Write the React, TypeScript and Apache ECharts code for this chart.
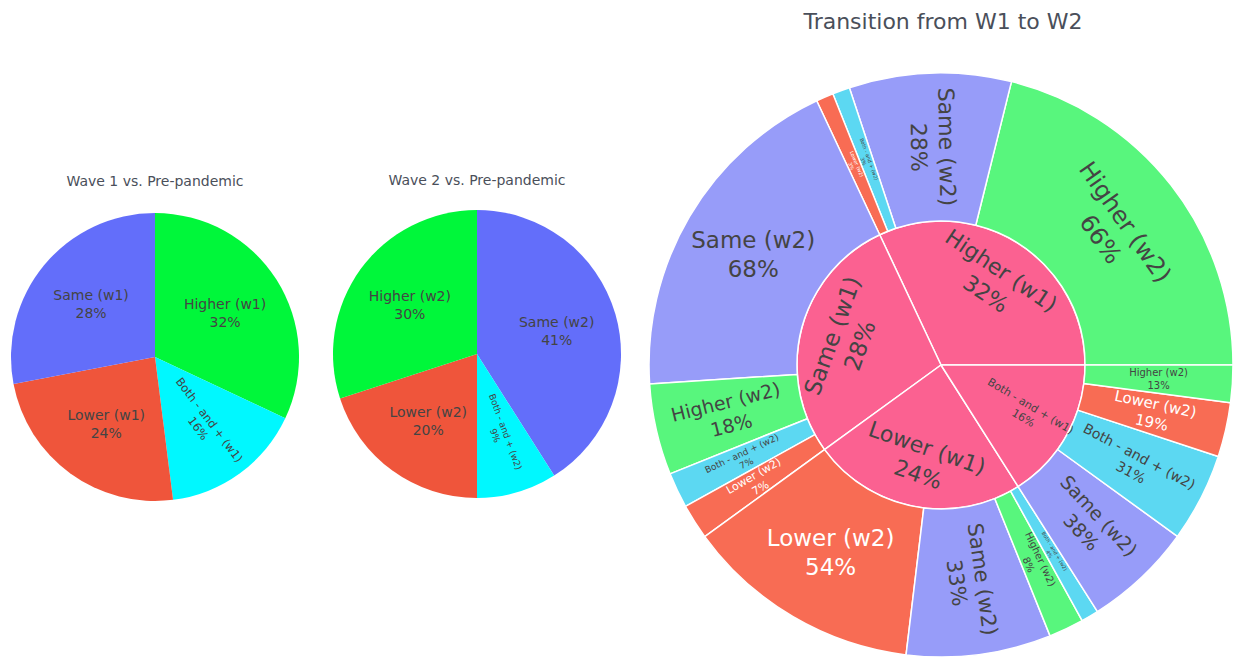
import React, { useEffect, useRef } from "react";
import * as echarts from "echarts";

// ---------- data ----------
const wave1Categories = ["Higher (w1)", "Both - and + (w1)", "Lower (w1)", "Same (w1)"];
const wave1Values = [32, 16, 24, 28];

const wave2Categories = ["Same (w2)", "Both - and + (w2)", "Lower (w2)", "Higher (w2)"];
const wave2Values = [41, 9, 20, 30];

const transitionParents = ["Higher (w1)", "Same (w1)", "Lower (w1)", "Both - and + (w1)"];
const transitionParentPercents = [32, 28, 24, 16];

const transitionChildren = [
  ["Higher (w2)", "Same (w2)", "Both - and + (w2)", "Lower (w2)"],
  ["Same (w2)", "Higher (w2)", "Both - and + (w2)", "Lower (w2)"],
  ["Lower (w2)", "Same (w2)", "Higher (w2)", "Both - and + (w2)"],
  ["Same (w2)", "Both - and + (w2)", "Lower (w2)", "Higher (w2)"],
];
const transitionChildPercents = [
  [66, 28, 3, 3],
  [68, 18, 7, 7],
  [54, 33, 8, 4],
  [38, 31, 19, 13],
];

const titles = ["Wave 1 vs. Pre-pandemic", "Wave 2 vs. Pre-pandemic", "Transition from W1 to W2"];

// ---------- styles ----------
const FONT = "DejaVu Sans, Verdana, sans-serif";
const DARK = "#444";

const pieColors: Record<string, string> = {
  Higher: "#00f73a",
  Same: "#636efa",
  Lower: "#ef553b",
  Both: "#00f8ff",
};
const leafColors: Record<string, string> = {
  Higher: "#58f67d",
  Same: "#979cf9",
  Lower: "#f86c54",
  Both: "#5cd8f2",
};
const INNER_PINK = "#fb6191";

const keyOf = (name: string) => name.split(" ")[0];

const wave1LabelStyle = [
  { rotate: 0, size: 14 },
  { rotate: -53, size: 11.5 },
  { rotate: 0, size: 14 },
  { rotate: 0, size: 14 },
];
const wave2LabelStyle = [
  { rotate: 0, size: 14 },
  { rotate: -70, size: 9 },
  { rotate: 0, size: 14 },
  { rotate: 0, size: 14 },
];
const innerLabelStyle = [
  { rotate: -34, size: 22 },
  { rotate: 70, size: 23 },
  { rotate: -19, size: 22 },
  { rotate: -31, size: 11 },
];
const childLabelStyle = [
  [{ rotate: -55, size: 24 }, { rotate: -89, size: 22 }, { rotate: -70, size: 5 }, { rotate: -67, size: 5 }],
  [{ rotate: 0, size: 23 }, { rotate: 14, size: 19 }, { rotate: 25, size: 9 }, { rotate: 30, size: 11 }],
  [{ rotate: 0, size: 23 }, { rotate: -82, size: 21 }, { rotate: -65, size: 10 }, { rotate: -59, size: 5 }],
  [{ rotate: -47, size: 19 }, { rotate: -28, size: 14 }, { rotate: -12, size: 15 }, { rotate: 0, size: 10 }],
];

const PIE1_CENTER = [155, 357];
const PIE2_CENTER = [477, 354];
const PIE_R = 144;
const SB_CENTER = [941, 365];
const SB_R0 = 144;
const SB_R1 = 292;

function pieSeries(cats: string[], vals: number[], styles: { rotate: number; size: number }[], center: number[]) {
  const shapes = {
    type: "pie",
    center,
    radius: [0, PIE_R],
    startAngle: 90,
    clockwise: true,
    silent: true,
    avoidLabelOverlap: false,
    label: { show: false },
    labelLine: { show: false },
    data: cats.map((c, i) => ({ name: c, value: vals[i], itemStyle: { color: pieColors[keyOf(c)] } })),
  };
  const labels = {
    type: "pie",
    center,
    radius: [16, PIE_R],
    startAngle: 90,
    clockwise: true,
    silent: true,
    avoidLabelOverlap: false,
    labelLine: { show: false },
    itemStyle: { color: "rgba(0,0,0,0)" },
    data: cats.map((c, i) => ({
      name: c,
      value: vals[i],
      label: {
        show: true,
        position: "inside",
        rotate: styles[i].rotate,
        fontSize: styles[i].size,
        lineHeight: Math.round(styles[i].size * 1.25),
        color: DARK,
        fontFamily: FONT,
        formatter: c + "\n" + vals[i] + "%",
      },
    })),
  };
  return [shapes, labels];
}

const sunburstData = transitionParents.map((p, i) => {
  const total = transitionChildPercents[i].reduce((a, b) => a + b, 0);
  return {
    name: p,
    itemStyle: { color: INNER_PINK },
    label: { show: false },
    children: transitionChildren[i].map((c, j) => {
      const st = childLabelStyle[i][j];
      const k = keyOf(c);
      return {
        name: c,
        pct: transitionChildPercents[i][j],
        value: (transitionParentPercents[i] * transitionChildPercents[i][j]) / total,
        itemStyle: { color: leafColors[k] },
        label: {
          show: true,
          rotate: st.rotate,
          fontSize: st.size,
          lineHeight: Math.round(st.size * 1.25),
          color: k === "Lower" ? "#fff" : DARK,
          fontFamily: FONT,
          formatter: c + "\n" + transitionChildPercents[i][j] + "%",
        },
      };
    }),
  };
});

const option: any = {
  animation: false,
  backgroundColor: "#fff",
  textStyle: { fontFamily: FONT },
  graphic: [
    {
      type: "text",
      x: 155,
      y: 181,
      silent: true,
      style: { text: titles[0], fill: "#4a4f5a", fontSize: 14, fontFamily: FONT, align: "center", verticalAlign: "middle" },
    },
    {
      type: "text",
      x: 477,
      y: 180,
      silent: true,
      style: { text: titles[1], fill: "#4a4f5a", fontSize: 14, fontFamily: FONT, align: "center", verticalAlign: "middle" },
    },
    {
      type: "text",
      x: 943,
      y: 21,
      silent: true,
      style: { text: titles[2], fill: "#4a4f5a", fontSize: 22, fontFamily: FONT, align: "center", verticalAlign: "middle" },
    },
  ],
  series: [
    ...pieSeries(wave1Categories, wave1Values, wave1LabelStyle, PIE1_CENTER),
    ...pieSeries(wave2Categories, wave2Values, wave2LabelStyle, PIE2_CENTER),
    {
      type: "sunburst",
      center: SB_CENTER,
      radius: [0, SB_R1],
      startAngle: 0,
      clockwise: false,
      sort: null,
      nodeClick: false,
      silent: true,
      emphasis: { disabled: true },
      itemStyle: { borderColor: "#fff", borderWidth: 1.5 },
      levels: [{}, { r0: 0, r: SB_R0 }, { r0: SB_R0, r: SB_R1 }],
      data: sunburstData,
    },
    {
      type: "pie",
      center: SB_CENTER,
      radius: [46, SB_R0],
      startAngle: 0,
      clockwise: false,
      silent: true,
      avoidLabelOverlap: false,
      labelLine: { show: false },
      itemStyle: { color: "rgba(0,0,0,0)" },
      z: 5,
      data: transitionParents.map((p, i) => ({
        name: p,
        value: transitionParentPercents[i],
        label: {
          show: true,
          position: "inside",
          rotate: innerLabelStyle[i].rotate,
          fontSize: innerLabelStyle[i].size,
          lineHeight: Math.round(innerLabelStyle[i].size * 1.25),
          color: DARK,
          fontFamily: FONT,
          formatter: p + "\n" + transitionParentPercents[i] + "%",
        },
      })),
    },
  ],
};

export default function App() {
  const ref = useRef<HTMLDivElement>(null);
  useEffect(() => {
    if (!ref.current) return;
    const chart = echarts.init(ref.current, null, { renderer: "svg" });
    chart.setOption(option);
    return () => chart.dispose();
  }, []);
  return (
    <div
      ref={ref}
      style={{ position: "fixed", left: 0, top: 0, width: 1233, height: 658, background: "#fff" }}
    />
  );
}
